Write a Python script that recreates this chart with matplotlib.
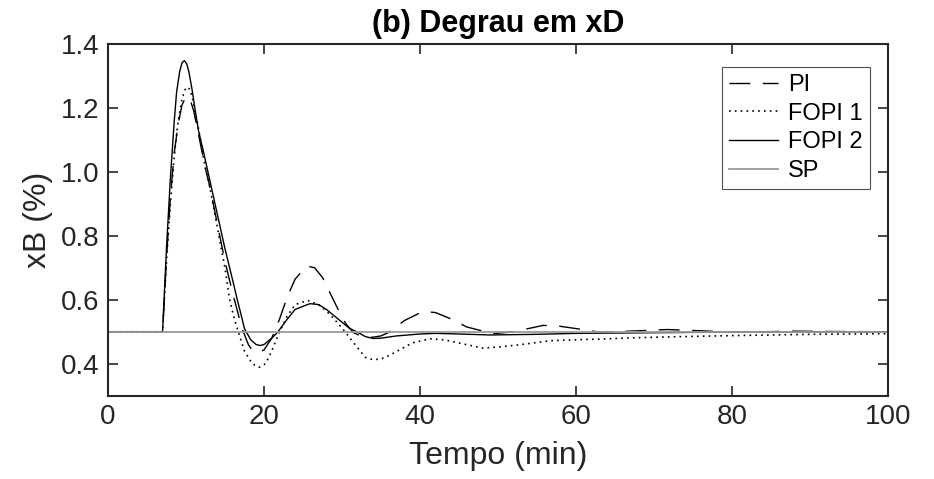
import matplotlib
matplotlib.use("Agg")
import matplotlib.pyplot as plt

plt.rcParams['font.family'] = ['Liberation Sans', 'DejaVu Sans']

# Time grid and series values
t_pi = [0, 7, 7.5, 8, 8.5, 9, 9.5, 10, 10.5, 11, 11.5, 12, 12.5, 13, 14, 15, 16, 16.7, 17.2,
        18, 18.6, 19.3, 20, 21, 22, 23, 24, 25.5, 26.5, 27.5, 28.5, 29.5, 30.5, 31.5, 32.5,
        34, 35, 36, 38, 40.4, 42, 44, 46, 49.4, 52, 55.8, 58, 60, 63, 67, 71.7, 76, 80, 84,
        88, 92, 100]
pi = [0.5, 0.5, 0.73, 0.92, 1.06, 1.15, 1.21, 1.235, 1.23, 1.19, 1.13, 1.07, 1.01, 0.96,
      0.84, 0.72, 0.62, 0.555, 0.51, 0.46, 0.438, 0.436, 0.443, 0.48, 0.54, 0.61, 0.665,
      0.706, 0.70, 0.67, 0.62, 0.57, 0.525, 0.497, 0.486, 0.483, 0.487, 0.498, 0.535, 0.564,
      0.56, 0.54, 0.515, 0.494, 0.50, 0.52, 0.517, 0.51, 0.499, 0.502, 0.507, 0.503, 0.499,
      0.50, 0.502, 0.501, 0.50]

t_f1 = [0, 7, 7.5, 8, 8.5, 9, 9.5, 9.9, 10.2, 10.5, 10.8, 11.5, 12.2, 12.6, 13, 14, 15, 15.6,
        16.2, 16.7, 17.5, 18.5, 19.4, 20.2, 21, 22, 23, 24, 25.6, 27, 28, 29, 30.4, 32, 33,
        34, 35, 36, 37.5, 39, 41.3, 43, 45, 48, 50, 53, 56.7, 60, 63, 67, 72, 80, 90, 100]
fopi1 = [0.5, 0.5, 0.72, 0.9, 1.05, 1.16, 1.23, 1.258, 1.266, 1.258, 1.235, 1.15, 1.05, 1.0,
         0.96, 0.83, 0.70, 0.60, 0.54, 0.50, 0.44, 0.40, 0.389, 0.40, 0.44, 0.50, 0.55,
         0.585, 0.598, 0.585, 0.565, 0.54, 0.50, 0.45, 0.42, 0.4125, 0.415, 0.425, 0.445,
         0.465, 0.478, 0.475, 0.465, 0.449, 0.452, 0.46, 0.472, 0.475, 0.477, 0.481, 0.484,
         0.488, 0.492, 0.494]

t_f2 = [0, 7, 7.5, 8, 8.5, 8.8, 9.2, 9.5, 9.8, 10.1, 10.4, 10.8, 11.2, 11.6, 12.2, 13, 14, 15,
        16, 16.6, 17, 17.5, 18.3, 19, 19.5, 20, 21, 21.8, 23, 24, 25.9, 27, 28, 29, 30, 31,
        31.9, 33, 34, 35, 37, 40, 42, 45, 49, 55, 60, 70, 80, 100]
fopi2 = [0.5, 0.5, 0.76, 0.98, 1.16, 1.25, 1.315, 1.342, 1.348, 1.338, 1.31, 1.255, 1.19,
         1.13, 1.068, 0.98, 0.87, 0.76, 0.66, 0.598, 0.56, 0.51, 0.475, 0.46, 0.457, 0.46,
         0.48, 0.5, 0.54, 0.57, 0.588, 0.585, 0.57, 0.55, 0.53, 0.51, 0.5, 0.485, 0.479,
         0.48, 0.487, 0.493, 0.495, 0.493, 0.49, 0.492, 0.495, 0.497, 0.499, 0.5]

t_sp = [0, 100]
sp = [0.5, 0.5]

labels = ['PI', 'FOPI 1', 'FOPI 2', 'SP']
title = '(b) Degrau em xD'
xlabel = 'Tempo (min)'
ylabel = 'xB (%)'
xticks = [0, 20, 40, 60, 80, 100]
yticks = [0.4, 0.6, 0.8, 1.0, 1.2, 1.4]
ytick_labels = ['0.4', '0.6', '0.8', '1.0', '1.2', '1.4']

fig = plt.figure(figsize=(9.34, 4.79), dpi=100)
ax = fig.add_axes([0.1156, 0.1739, 0.8351, 0.7341])

ax.plot(t_pi, pi, color='black', lw=1.0, dashes=(15, 9), label=labels[0])
ax.plot(t_f1, fopi1, color='black', lw=1.2, linestyle=(0, (1, 2.5)), label=labels[1])
ax.plot(t_f2, fopi2, color='black', lw=1.0, label=labels[2])
ax.plot(t_sp, sp, color='#9a9a9a', lw=1.3, label=labels[3])

ax.set_xlim(0, 100)
ax.set_ylim(0.3, 1.4)
ax.set_xticks(xticks)
ax.set_yticks(yticks)
ax.set_yticklabels(ytick_labels)

ax.tick_params(direction='in', length=7, width=1.2, top=True, right=True,
               labelsize=20, colors='#262626', pad=6)
for s in ax.spines.values():
    s.set_linewidth(1.5)
    s.set_color('#262626')

ax.set_xlabel(xlabel, fontsize=23, color='#262626', labelpad=8)
ax.set_ylabel(ylabel, fontsize=23, color='#262626', labelpad=6)
ax.set_title(title, fontsize=22, fontweight='bold', color='black', pad=9)

leg = ax.legend(loc='upper right', bbox_to_anchor=(0.9765, 0.935), fontsize=17,
                frameon=True, fancybox=False, edgecolor='#262626', handlelength=2.1,
                handletextpad=0.4, borderpad=0.3, labelspacing=0.28, borderaxespad=0)
leg.get_frame().set_linewidth(0.8)

fig.savefig('out.png', dpi=100)
